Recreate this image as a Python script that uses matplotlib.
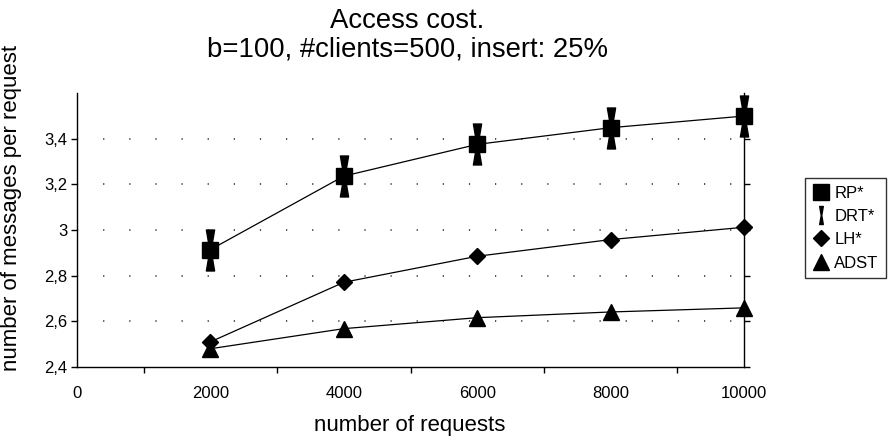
import matplotlib
matplotlib.use("Agg")
import matplotlib.pyplot as plt
from matplotlib.path import Path
from matplotlib.lines import Line2D
import numpy as np

plt.rcParams['font.family'] = ['Liberation Sans', 'DejaVu Sans']

requests = [2000, 4000, 6000, 8000, 10000]
rp = [2.914, 3.236, 3.375, 3.448, 3.499]
drt = [2.914, 3.236, 3.375, 3.448, 3.499]
lh = [2.51, 2.771, 2.885, 2.958, 3.012]
adst = [2.48, 2.568, 2.616, 2.641, 2.659]

x_labels = ['0', '2000', '4000', '6000', '8000', '10000']
x_label_pos = [0, 2000, 4000, 6000, 8000, 10000]
y_ticks = [2.4, 2.6, 2.8, 3.0, 3.2, 3.4]
y_labels = ['2,4', '2,6', '2,8', '3', '3,2', '3,4']

hourglass = Path([(-0.2, 1), (0.2, 1), (0.03, 0), (0.2, -1), (-0.2, -1), (-0.03, 0), (-0.2, 1)],
                 [Path.MOVETO, Path.LINETO, Path.LINETO, Path.LINETO, Path.LINETO, Path.LINETO, Path.CLOSEPOLY])

fig = plt.figure(figsize=(8.88, 4.42), dpi=100)
ax = fig.add_axes([77/888, 1-367/442, (744-77)/888, (367-93)/442])

ax.set_xlim(0, 10000)
ax.set_ylim(2.4, 3.6)

# grid
for yv in y_ticks[1:]:
    ax.axhline(yv, color='#222222', lw=1.1, ls=(0, (0.8, 16.3)), zorder=1)

ax.plot(requests, drt, color='black', lw=0, marker=hourglass, markersize=29.5,
        clip_on=False, zorder=3)
ax.plot(requests, rp, color='black', lw=0.9, marker='s', markersize=11.5,
        clip_on=False, zorder=4)
ax.plot(requests, lh, color='black', lw=0.9, marker='D', markersize=8.5,
        clip_on=False, zorder=4)
ax.plot(requests, adst, color='black', lw=0.9, marker='^', markersize=11,
        clip_on=False, zorder=4)

for s in ['left', 'bottom', 'right']:
    ax.spines[s].set_linewidth(1.0)
    ax.spines[s].set_color('black')
ax.spines['top'].set_visible(False)

ax.set_yticks(y_ticks)
ax.set_yticklabels(y_labels, fontsize=12)
ax.tick_params(axis='y', left=True, right=True, direction='out', length=4, width=1.0, pad=3)

ax.set_xticks([1000, 3000, 5000, 7000, 9000])
ax.set_xticklabels([])
ax.tick_params(axis='x', which='major', direction='out', length=4, width=1.0)
ax.set_xticks(x_label_pos, minor=True)
ax.set_xticklabels(x_labels, minor=True, fontsize=12)
ax.tick_params(axis='x', which='minor', length=0, pad=14)

fig.text(407/888, 1-35/442, 'Access cost.\nb=100, #clients=500, insert: 25%',
         ha='center', va='center', fontsize=19.8, linespacing=1.13)
fig.text(12/888, 1-208/442, 'number of messages per request', rotation=90,
         ha='center', va='center', fontsize=16)
fig.text(410/888, 1-425/442, 'number of requests', ha='center', va='center', fontsize=16)

handles = [
    Line2D([], [], color='black', lw=0, marker='s', markersize=11),
    Line2D([], [], color='black', lw=0, marker=hourglass, markersize=13),
    Line2D([], [], color='black', lw=0, marker='D', markersize=8.5),
    Line2D([], [], color='black', lw=0, marker='^', markersize=11),
]
leg = fig.legend(handles, ['RP*', 'DRT*', 'LH*', 'ADST'], loc='upper left',
                 bbox_to_anchor=(805/888, 1-178/442), fontsize=12, frameon=True,
                 fancybox=False, edgecolor='black', borderpad=0.45, handlelength=1.0,
                 handletextpad=0.3, labelspacing=0.5, borderaxespad=0)
leg.get_frame().set_linewidth(1.0)

fig.savefig('out.png', dpi=100)
